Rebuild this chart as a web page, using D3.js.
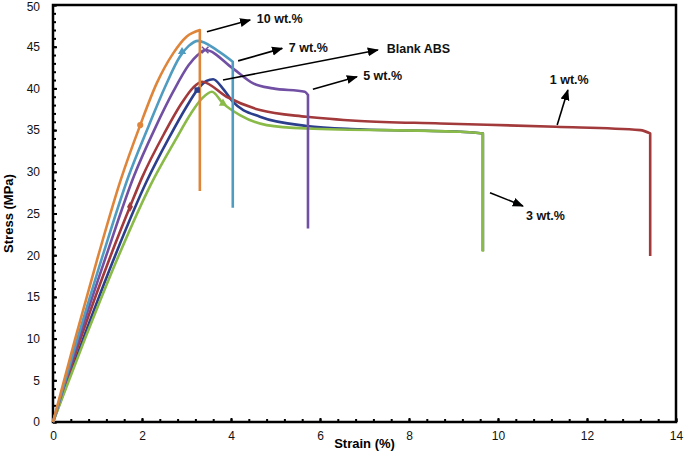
<!DOCTYPE html>
<html>
<head>
<meta charset="utf-8">
<script src="https://cdn.jsdelivr.net/npm/d3@7"></script>
<style>
  body { margin: 0; background: #fff; }
  text { font-family: "Liberation Sans", Arial, sans-serif; }
</style>
</head>
<body>
<div id="chart"></div>
<script>
// stress-strain curves, [strain %, stress MPa]
var blankABS = [[0,0],[0.68,10],[1.4,20],[2.1,28.8],[2.6,34],[3.0,37.8],[3.24,39.8],[3.45,40.9],[3.6,41.1],[3.8,40.1],[4.04,38.4],[4.65,36.6],[5.7,35.5],[6.9,35.1],[9.15,34.8],[9.66,34.6]];
var wt1 = [[0,0],[0.62,10],[1.3,20],[1.73,25.8],[2.0,29.3],[2.5,34.6],[2.9,38.3],[3.15,40.1],[3.35,40.8],[3.9,39.0],[4.65,37.4],[5.7,36.6],[6.9,36.1],[8.7,35.8],[11.3,35.4],[13.2,35.0],[13.42,34.6]];
var wt3 = [[0,0],[0.72,10],[1.48,20],[2.2,28.5],[2.75,33.8],[3.1,37],[3.35,38.8],[3.57,39.6],[3.82,38.2],[4.2,36.8],[4.8,35.6],[5.7,35.2],[9.15,34.8],[9.66,34.6]];
var wt5 = [[0,0],[0.58,10],[1.2,20],[1.82,29.5],[2.3,35.3],[2.7,39.6],[3.05,42.8],[3.25,44.0],[3.42,44.6],[4.04,42.4],[4.5,40.6],[4.94,40.0],[5.66,39.6],[5.73,39.2]];
var wt7 = [[0,0],[0.55,10],[1.12,20],[1.7,29.5],[2.15,35.5],[2.52,40.2],[2.85,43.8],[3.05,45.1],[3.26,45.7],[3.68,44.6],[4.04,43.2]];
var wt10 = [[0,0],[0.5,10],[1.02,20],[1.52,29],[1.96,35.6],[2.33,40.6],[2.7,44.2],[3.0,46.2],[3.3,47.0]];

// stress reached at the bottom of the final drop
var breakStress = { blankABS: 20.5, wt1: 19.9, wt3: 20.4, wt5: 23.2, wt7: 25.7, wt10: 27.7 };

var xTicks = [0, 2, 4, 6, 8, 10, 12, 14];
var yTicks = [0, 5, 10, 15, 20, 25, 30, 35, 40, 45, 50];

var series = [
  { key: "blankABS", pts: blankABS, color: "#2c3f8c", marker: "square", at: [3.24, 39.8] },
  { key: "wt1", pts: wt1, color: "#a2393b", marker: "diamond", at: [1.73, 25.8] },
  { key: "wt3", pts: wt3, color: "#8aba47", marker: "triangle", at: [3.82, 38.2] },
  { key: "wt5", pts: wt5, color: "#7150a4", marker: "cross", at: [3.42, 44.6] },
  { key: "wt7", pts: wt7, color: "#4f9cc0", marker: "triangle", at: [2.9, 44.4] },
  { key: "wt10", pts: wt10, color: "#df853a", marker: "circle", at: [1.96, 35.6] }
];

// annotation arrows [from], [to], label position (data units)
var notes = [
  { text: "10 wt.%", from: [3.46, 46.8], to: [4.43, 48.2], pos: [4.58, 47.8], anchor: "start" },
  { text: "7 wt.%", from: [4.16, 43.3], to: [5.15, 44.8], pos: [5.3, 44.4], anchor: "start" },
  { text: "Blank ABS", from: [3.82, 41.0], to: [7.3, 44.6], pos: [7.5, 44.2], anchor: "start" },
  { text: "5 wt.%", from: [5.84, 39.9], to: [6.83, 41.4], pos: [6.97, 41.0], anchor: "start" },
  { text: "1 wt.%", from: [11.33, 35.6], to: [11.57, 39.8], pos: [11.6, 40.5], anchor: "middle" },
  { text: "3 wt.%", from: [9.82, 27.5], to: [10.56, 25.9], pos: [10.63, 24.2], anchor: "start" }
];

var margin = { top: 5, right: 9, bottom: 44, left: 53 };
var width = 685 - margin.left - margin.right;
var height = 466 - margin.top - margin.bottom;

var svg = d3.select("#chart").append("svg").attr("width", 685).attr("height", 466)
  .append("g").attr("transform", "translate(" + margin.left + "," + margin.top + ")");

var x = d3.scaleLinear().domain([0, 14]).range([0, width]);
var y = d3.scaleLinear().domain([0, 50]).range([height, 0]);

// minor ticks pointing inward
svg.append("g").attr("transform", "translate(0," + height + ")")
  .call(d3.axisBottom(x).tickValues(d3.range(0, 14.01, 0.4)).tickSize(-3).tickFormat(""))
  .call(function (g) { g.select(".domain").remove(); g.selectAll("line").attr("stroke-width", 2); });
svg.append("g")
  .call(d3.axisLeft(y).tickValues(d3.range(0, 50.01, 1)).tickSize(-3).tickFormat(""))
  .call(function (g) { g.select(".domain").remove(); g.selectAll("line").attr("stroke-width", 2); });

var xAxis = svg.append("g").attr("transform", "translate(0," + height + ")")
  .call(d3.axisBottom(x).tickValues(xTicks).tickSize(-4).tickPadding(9));
var yAxis = svg.append("g")
  .call(d3.axisLeft(y).tickValues(yTicks).tickSize(-4).tickPadding(13));
[xAxis, yAxis].forEach(function (g) {
  g.select(".domain").remove();
  g.selectAll("line").attr("stroke-width", 2);
  g.selectAll("text").attr("font-size", 12).attr("fill", "#111");
});
yAxis.selectAll("text").filter(function (d) { return d == 50; }).attr("dy", "0.45em");

svg.append("rect").attr("width", width).attr("height", height)
  .attr("fill", "none").attr("stroke", "#000").attr("stroke-width", 2.5);

var line = d3.line().x(function (d) { return x(d[0]); }).y(function (d) { return y(d[1]); })
  .curve(d3.curveMonotoneX);

series.forEach(function (s) {
  var last = s.pts[s.pts.length - 1];
  svg.append("path").attr("d", line(s.pts) + "L" + x(last[0]) + "," + y(breakStress[s.key]))
    .attr("fill", "none").attr("stroke", s.color).attr("stroke-width", 2.6)
    .attr("stroke-linejoin", "round");
});

var symbols = { square: d3.symbolSquare, diamond: d3.symbolDiamond, triangle: d3.symbolTriangle, cross: d3.symbolX, circle: d3.symbolCircle };
series.forEach(function (s) {
  svg.append("path").attr("d", d3.symbol().type(symbols[s.marker]).size(30)())
    .attr("transform", "translate(" + x(s.at[0]) + "," + y(s.at[1]) + ")")
    .attr("fill", s.color).attr("stroke", s.color).attr("stroke-width", s.marker == "cross" ? 1.5 : 0);
});

svg.append("defs").append("marker").attr("id", "head")
  .attr("viewBox", "0 0 10 10").attr("refX", 9).attr("refY", 5)
  .attr("markerWidth", 7).attr("markerHeight", 7).attr("orient", "auto")
  .append("path").attr("d", "M0,1L10,5L0,9Z").attr("fill", "#000");

notes.forEach(function (n) {
  svg.append("line").attr("x1", x(n.from[0])).attr("y1", y(n.from[1]))
    .attr("x2", x(n.to[0])).attr("y2", y(n.to[1]))
    .attr("stroke", "#000").attr("stroke-width", 1.6).attr("marker-end", "url(#head)");
  svg.append("text").attr("x", x(n.pos[0])).attr("y", y(n.pos[1]))
    .attr("text-anchor", n.anchor).attr("font-size", 12.5).attr("font-weight", "bold")
    .attr("fill", "#111").text(n.text);
});

svg.append("text").attr("text-anchor", "middle").attr("font-weight", "bold").attr("font-size", 13)
  .attr("transform", "translate(" + width / 2 + "," + (height + 26) + ")").text("Strain (%)");
svg.append("text").attr("text-anchor", "middle").attr("font-weight", "bold").attr("font-size", 13)
  .attr("transform", "translate(-40," + height / 2 + ")rotate(-90)").text("Stress (MPa)");
</script>
</body>
</html>
